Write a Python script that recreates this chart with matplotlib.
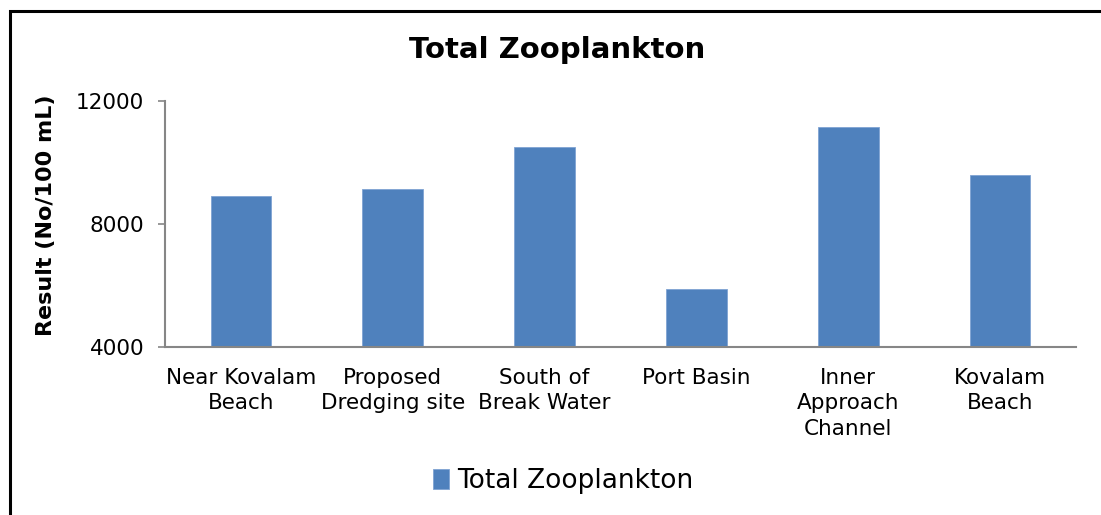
import matplotlib
matplotlib.use("Agg")
import matplotlib.pyplot as plt
from matplotlib.patches import Rectangle
import numpy as np

plt.rcParams['font.family'] = ['DejaVu Sans']

categories = ["Near Kovalam\nBeach", "Proposed\nDredging site", "South of\nBreak Water",
              "Port Basin", "Inner\nApproach\nChannel", "Kovalam\nBeach"]
zooplankton = [8900, 9150, 10500, 5900, 11150, 9580]
yticks = [4000, 8000, 12000]

bar_color = "#4F81BD"
axis_gray = "#868686"

fig = plt.figure(figsize=(11.01, 5.15), dpi=100)
ax = fig.add_axes([0.1499, 0.3256, 0.9773 - 0.1499, 0.8045 - 0.3256])

x = np.arange(len(categories))
ax.bar(x, zooplankton, width=0.4, color=bar_color, edgecolor="#7FA3D3", linewidth=0.6,
       label="Total Zooplankton")

ax.set_xlim(-0.5, len(categories) - 0.5)
ax.set_ylim(4000, 12000)
ax.set_yticks(yticks)
ax.set_yticklabels([str(v) for v in yticks], fontsize=15.5)
ax.set_xticks(x)
ax.set_xticklabels(categories, fontsize=15.5, linespacing=1.33)
ax.tick_params(axis="x", length=0, pad=15)
ax.tick_params(axis="y", direction="out", length=5, width=1.2, color=axis_gray, pad=10)

for s in ["top", "right"]:
    ax.spines[s].set_visible(False)
for s in ["left", "bottom"]:
    ax.spines[s].set_color(axis_gray)
    ax.spines[s].set_linewidth(1.5)

ax.set_ylabel("Result (No/100 mL)", fontsize=16, fontweight="bold")
ax.yaxis.set_label_coords(-0.12, 0.536)

fig.text(557 / 1101, 1 - 50 / 515, "Total Zooplankton", fontsize=21, fontweight="bold",
         ha="center", va="center")

fig.legend(loc="center", bbox_to_anchor=(563 / 1101, 1 - 481 / 515), frameon=False,
           fontsize=19, handlelength=0.6, handleheight=0.8, handletextpad=0.3)

# outer chart border (cut off at right and bottom like the screenshot)
fig.patches.append(Rectangle((10 / 1101, -0.05), 1.2, 1 - 11 / 515 + 0.05,
                             transform=fig.transFigure, fill=False,
                             edgecolor="black", linewidth=2.2))

fig.savefig("out.png", dpi=100)
